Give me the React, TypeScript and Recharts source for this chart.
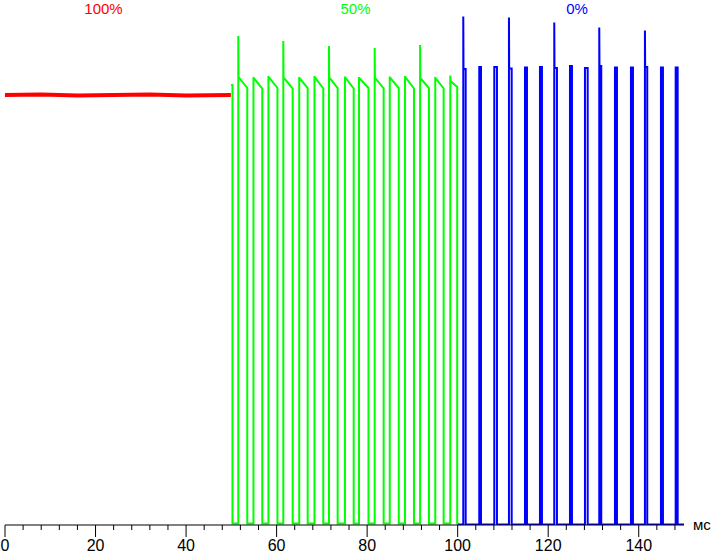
import React from 'react';
import { LineChart, Line, XAxis, YAxis } from 'recharts';

// time axis (ms)
const tickValues = [0, 4, 8, 12, 16, 20, 24, 28, 32, 36, 40, 44, 48, 52, 56, 60, 64, 68, 72, 76, 80, 84, 88, 92, 96, 100, 104, 108, 112, 116, 120, 124, 128, 132, 136, 140, 144, 148];
const majorLabels = [0, 20, 40, 60, 80, 100, 120, 140];

// 100% segment (red)
const redT = [0, 8, 16, 24, 32, 40, 49.9];
const redV = [86.0, 86.1, 85.9, 86.0, 86.1, 85.9, 86.0];

// 50% segment (green)
const greenRise = [51.54, 54.89, 58.2, 61.48, 65.0, 68.37, 71.57, 75.1, 78.2, 81.67, 85.0, 88.36, 91.7, 95.05, 98.37];
const greenFall = [53.52, 56.84, 60.19, 63.55, 66.87, 70.31, 73.49, 77.03, 80.3, 83.65, 86.99, 90.35, 93.66, 96.9, 99.9];
const greenPeak = [97.8, 89.4, 89.6, 96.8, 89.4, 89.6, 95.8, 89.5, 89.4, 95.4, 89.5, 89.6, 96.0, 89.4, 89.9];
const greenTop = [89.6, 89.4, 89.6, 89.5, 89.4, 89.6, 89.5, 89.5, 89.4, 89.5, 89.5, 89.6, 89.4, 89.4, 88.8];
const greenEnd = [87.4, 87.3, 87.4, 87.3, 87.4, 87.3, 87.4, 87.3, 87.4, 87.3, 87.4, 87.3, 87.4, 87.3, 87.6];
const greenLow = 0.3;

// 0% segment (blue)
const blueRise = [101.24, 104.77, 108.09, 111.33, 114.87, 118.18, 121.34, 124.81, 128.12, 131.28, 134.75, 138.28, 141.37, 144.91, 148.16];
const blueFall = [101.77, 105.15, 108.68, 111.93, 115.31, 118.62, 121.93, 125.25, 128.72, 131.72, 135.19, 138.72, 141.88, 145.35, 148.6];
const bluePeak = [101.7, 91.6, 91.6, 101.5, 91.5, 91.6, 100.5, 91.8, 91.4, 99.5, 91.5, 91.5, 98.9, 91.5, 91.5];
const blueTop = [91.2, 91.6, 91.6, 91.3, 91.5, 91.6, 91.4, 91.8, 91.4, 91.8, 91.5, 91.5, 91.6, 91.5, 91.5];
const blueLow = 0.1;

type Pt = { t: number; v: number };

const redData: Pt[] = redT.map((t, i) => ({ t, v: redV[i] }));

const greenData: Pt[] = (() => {
  const pts: Pt[] = [
    { t: 49.95, v: 88.0 },
    { t: 50.25, v: 88.0 },
    { t: 50.25, v: greenLow },
  ];
  greenRise.forEach((r, i) => {
    pts.push({ t: r, v: greenLow });
    pts.push({ t: r, v: greenPeak[i] });
    pts.push({ t: r + 0.05, v: greenTop[i] });
    pts.push({ t: greenFall[i], v: greenEnd[i] });
    pts.push({ t: greenFall[i], v: greenLow });
  });
  pts.push({ t: 100.2, v: greenLow });
  return pts;
})();

const blueData: Pt[] = (() => {
  const pts: Pt[] = [{ t: 100.1, v: blueLow }];
  blueRise.forEach((r, i) => {
    pts.push({ t: r, v: blueLow });
    pts.push({ t: r, v: bluePeak[i] });
    pts.push({ t: r + 0.05, v: blueTop[i] });
    pts.push({ t: blueFall[i], v: blueTop[i] });
    pts.push({ t: blueFall[i], v: blueLow });
  });
  pts.push({ t: 150, v: blueLow });
  return pts;
})();

const FONT = '"Liberation Sans", Arial, sans-serif';

function AxisTick(props: any) {
  const { x, y, payload } = props;
  const v = payload.value as number;
  const major = majorLabels.includes(v);
  return (
    <g>
      <line x1={x} x2={x} y1={y} y2={y + (major ? 12 : 5)} stroke="#000" strokeWidth={1} />
      {major && (
        <text x={x} y={y + 26} textAnchor="middle" fontSize={16} fontFamily={FONT} fill="#000">
          {v}
        </text>
      )}
    </g>
  );
}

export default function App() {
  return (
    <div style={{ position: 'absolute', left: 0, top: 0, width: 711, height: 553, background: '#fff' }}>
      <LineChart
        width={711}
        height={553}
        margin={{ top: 5, right: 27, left: 5, bottom: 0 }}
      >
        <XAxis
          dataKey="t"
          type="number"
          domain={[0, 150]}
          ticks={tickValues}
          interval={0}
          allowDataOverflow
          height={28}
          tickSize={0}
          tickMargin={0}
          tickLine={false}
          axisLine={{ stroke: '#000', strokeWidth: 1 }}
          tick={<AxisTick />}
        />
        <YAxis hide type="number" domain={[0, 104]} allowDataOverflow width={0} />
        <Line data={redData} dataKey="v" type="linear" stroke="#ff0000" strokeWidth={4} dot={false} isAnimationActive={false} />
        <Line data={greenData} dataKey="v" type="linear" stroke="#00ff00" strokeWidth={2} dot={false} isAnimationActive={false} />
        <Line data={blueData} dataKey="v" type="linear" stroke="#0000ff" strokeWidth={2} dot={false} isAnimationActive={false} />
      </LineChart>
      <svg
        width={711}
        height={553}
        style={{ position: 'absolute', left: 0, top: 0, pointerEvents: 'none' }}
      >
        <text x={103.5} y={14} textAnchor="middle" fontSize={15} fontFamily={FONT} fill="#ff0000">100%</text>
        <text x={355.5} y={14} textAnchor="middle" fontSize={15} fontFamily={FONT} fill="#00ff00">50%</text>
        <text x={577} y={14} textAnchor="middle" fontSize={15} fontFamily={FONT} fill="#0000ff">0%</text>
        <text x={693} y={530} fontSize={15} fontFamily={FONT} fill="#000">мс</text>
      </svg>
    </div>
  );
}
